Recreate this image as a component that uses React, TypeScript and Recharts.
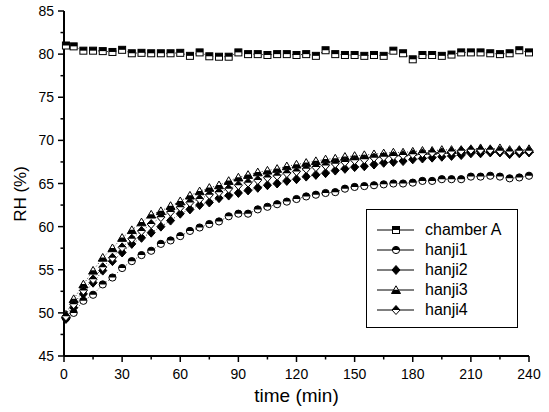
import React from "react";
import { LineChart, Line, XAxis, YAxis, Legend } from "recharts";

// tiempos de muestreo (min)
const times = [
  1, 5, 10, 15, 20, 25, 30, 35, 40, 45, 50, 55, 60, 65, 70, 75, 80, 85, 90, 95,
  100, 105, 110, 115, 120, 125, 130, 135, 140, 145, 150, 155, 160, 165, 170,
  175, 180, 185, 190, 195, 200, 205, 210, 215, 220, 225, 230, 235, 240,
];

const chamberA = [
  81.0, 80.9, 80.4, 80.4, 80.35, 80.25, 80.5, 80.1, 80.15, 80.1, 80.1, 80.1,
  80.15, 79.8, 80.2, 79.75, 79.7, 79.7, 80.2, 80.0, 80.0, 79.9, 80.0, 80.0,
  79.9, 80.0, 79.8, 80.45, 80.0, 79.9, 79.9, 79.8, 79.9, 79.8, 80.4, 80.1,
  79.4, 79.9, 79.9, 79.8, 79.95, 80.2, 80.2, 80.2, 80.1, 80.0, 80.1, 80.45,
  80.2,
];

const hanji1 = [
  49.4, 50.0, 51.4, 52.1, 53.3, 54.1, 55.2, 56.0, 56.7, 57.2, 58.0, 58.4, 58.9,
  59.5, 59.9, 60.3, 60.6, 61.2, 61.5, 61.5, 62.0, 62.3, 62.6, 62.9, 63.2, 63.5,
  63.7, 63.9, 64.0, 64.4, 64.6, 64.7, 64.8, 64.9, 65.0, 65.0, 65.1, 65.3, 65.3,
  65.5, 65.5, 65.5, 65.8, 65.8, 65.9, 65.8, 65.6, 65.7, 65.9,
];

const hanji2 = [
  49.3, 50.6, 52.2, 53.5, 54.9, 56.0, 57.0, 58.0, 58.7, 59.3, 60.0, 60.7, 61.5,
  62.0, 62.5, 62.8, 63.3, 63.6, 63.9, 64.2, 64.5, 64.8, 65.0, 65.3, 65.5, 65.8,
  66.0, 66.2, 66.5, 66.7, 66.9, 67.0, 67.2, 67.4, 67.5, 67.6, 67.8, 67.9, 68.0,
  68.1, 68.2, 68.3, 68.5, 68.5, 68.6, 68.6, 68.4, 68.5, 68.6,
];

const hanji3 = [
  49.8, 51.6, 53.3, 54.9, 56.4, 57.5, 58.7, 59.6, 60.5, 61.4, 61.8, 62.4, 62.95,
  63.6, 64.1, 64.5, 64.8, 65.3, 65.7, 66.0, 66.3, 66.5, 66.7, 67.0, 67.2, 67.4,
  67.6, 67.8, 67.9, 68.1, 68.2, 68.3, 68.4, 68.5, 68.6, 68.6, 68.7, 68.8, 68.8,
  68.9, 68.9, 68.9, 69.0, 69.1, 69.0, 69.1, 68.9, 68.9, 69.0,
];

const hanji4 = [
  49.6, 51.0, 52.6, 53.9, 55.3, 56.4, 57.6, 58.6, 59.5, 60.3, 61.1, 61.7, 62.25,
  62.8, 63.2, 63.7, 64.0, 64.4, 64.8, 65.1, 65.4, 65.7, 65.9, 66.2, 66.4, 66.7,
  66.9, 67.1, 67.3, 67.5, 67.7, 67.8, 68.0, 68.1, 68.2, 68.3, 68.4, 68.5, 68.6,
  68.6, 68.7, 68.8, 68.9, 68.9, 68.9, 68.8, 68.7, 68.8, 68.8,
];

const xTicks = [0, 15, 30, 45, 60, 75, 90, 105, 120, 135, 150, 165, 180, 195, 210, 225, 240];
const yTicks = [45, 47.5, 50, 52.5, 55, 57.5, 60, 62.5, 65, 67.5, 70, 72.5, 75, 77.5, 80, 82.5, 85];

const data = times.map((t, i) => ({
  time: t,
  chamberA: chamberA[i],
  hanji1: hanji1[i],
  hanji2: hanji2[i],
  hanji3: hanji3[i],
  hanji4: hanji4[i],
}));

const FONT = "'Liberation Sans', Arial, sans-serif";

// marcadores semi-rellenos estilo Origin
const Marker = ({ kind, cx, cy }: { kind: string; cx: number; cy: number }) => {
  if (kind === "square") {
    return (
      <g>
        <rect x={cx - 3.5} y={cy - 3.5} width={7} height={7} fill="#fff" stroke="#000" strokeWidth={1} />
        <rect x={cx - 3.5} y={cy - 3.5} width={7} height={3.5} fill="#000" />
      </g>
    );
  }
  if (kind === "circle") {
    const r = 3.6;
    return (
      <g>
        <circle cx={cx} cy={cy} r={r} fill="#fff" stroke="#000" strokeWidth={1} />
        <path d={`M${cx - r},${cy} A${r},${r} 0 0 1 ${cx + r},${cy} Z`} fill="#000" />
      </g>
    );
  }
  if (kind === "diamondFull") {
    return (
      <polygon
        points={`${cx},${cy - 4.5} ${cx + 4},${cy} ${cx},${cy + 4.5} ${cx - 4},${cy}`}
        fill="#000"
        stroke="#000"
        strokeWidth={1}
      />
    );
  }
  if (kind === "triangle") {
    return (
      <g>
        <polygon
          points={`${cx},${cy - 4.2} ${cx + 4.5},${cy + 3.5} ${cx - 4.5},${cy + 3.5}`}
          fill="#fff"
          stroke="#000"
          strokeWidth={1}
        />
        <polygon
          points={`${cx - 2.3},${cy - 0.3} ${cx + 2.3},${cy - 0.3} ${cx + 4.5},${cy + 3.5} ${cx - 4.5},${cy + 3.5}`}
          fill="#000"
        />
      </g>
    );
  }
  // diamante con mitad superior negra
  return (
    <g>
      <polygon
        points={`${cx},${cy - 4.5} ${cx + 4},${cy} ${cx},${cy + 4.5} ${cx - 4},${cy}`}
        fill="#fff"
        stroke="#000"
        strokeWidth={1}
      />
      <polygon points={`${cx},${cy - 4.5} ${cx + 4},${cy} ${cx - 4},${cy}`} fill="#000" />
    </g>
  );
};

const series = [
  { key: "chamberA", name: "chamber A", kind: "square" },
  { key: "hanji1", name: "hanji1", kind: "circle" },
  { key: "hanji2", name: "hanji2", kind: "diamondFull" },
  { key: "hanji3", name: "hanji3", kind: "triangle" },
  { key: "hanji4", name: "hanji4", kind: "diamondHalf" },
];

const XTick = ({ x, y, payload }: any) => {
  const major = payload.value % 30 === 0;
  return (
    <g>
      <line x1={x} x2={x} y1={y} y2={y + (major ? 6 : 3.5)} stroke="#000" strokeWidth={1.5} />
      {major && (
        <text x={x} y={y + 23} textAnchor="middle" fontSize={14} fontFamily={FONT} fill="#000">
          {payload.value}
        </text>
      )}
    </g>
  );
};

const YTick = ({ x, y, payload }: any) => {
  const major = payload.value % 5 === 0;
  return (
    <g>
      <line x1={x - (major ? 6 : 3.5)} x2={x} y1={y} y2={y} stroke="#000" strokeWidth={1.5} />
      {major && (
        <text x={x - 10} y={y} dy="0.36em" textAnchor="end" fontSize={14} fontFamily={FONT} fill="#000">
          {payload.value}
        </text>
      )}
    </g>
  );
};

const renderLegend = () => (
  <div
    style={{
      boxSizing: "border-box",
      width: 152,
      height: 119,
      border: "1px solid #000",
      background: "#fff",
      padding: "10px 0 0 0",
      fontFamily: FONT,
    }}
  >
    {series.map((s) => (
      <div key={s.key} style={{ display: "flex", alignItems: "center", height: 20 }}>
        <svg width={58} height={20} style={{ display: "block" }}>
          <line x1={10} x2={47} y1={10} y2={10} stroke="#000" strokeWidth={1} />
          <Marker kind={s.kind} cx={29} cy={10} />
        </svg>
        <span style={{ fontSize: 16, color: "#000", lineHeight: "20px", whiteSpace: "nowrap" }}>{s.name}</span>
      </div>
    ))}
  </div>
);

export default function App() {
  return (
    <div style={{ position: "absolute", left: 0, top: 0, width: 549, height: 412, background: "#fff" }}>
      <LineChart width={549} height={412} data={data} margin={{ top: 11, right: 20, left: 0, bottom: 0 }}>
        <XAxis
          dataKey="time"
          type="number"
          domain={[0, 240]}
          ticks={xTicks}
          interval={0}
          height={56}
          tickSize={0}
          tickMargin={0}
          tickLine={false}
          tick={<XTick />}
          axisLine={{ stroke: "#000", strokeWidth: 2 }}
          label={{ value: "time (min)", position: "insideBottom", offset: 10, fontSize: 19, fill: "#000", fontFamily: FONT }}
        />
        <YAxis
          type="number"
          domain={[45, 85]}
          ticks={yTicks}
          interval={0}
          width={64}
          tickSize={0}
          tickMargin={0}
          tickLine={false}
          tick={<YTick />}
          axisLine={{ stroke: "#000", strokeWidth: 2 }}
          label={{
            content: () => (
              <text
                x={20}
                y={194}
                transform="rotate(-90 20 194)"
                textAnchor="middle"
                dominantBaseline="central"
                fontSize={17}
                fontFamily={FONT}
                fill="#000"
              >
                RH (%)
              </text>
            ),
          }}
        />
        <Legend
          layout="vertical"
          align="center"
          verticalAlign="middle"
          content={renderLegend}
          wrapperStyle={{ left: 366, top: 209, width: 152, height: 119 }}
        />
        {series.map((s) => (
          <Line
            key={s.key}
            dataKey={s.key}
            name={s.name}
            type="linear"
            stroke="#000"
            strokeWidth={0.8}
            strokeDasharray="1 2"
            isAnimationActive={false}
            dot={(p: any) => <Marker key={`${s.key}-${p.index}`} kind={s.kind} cx={p.cx} cy={p.cy} />}
            activeDot={false}
          />
        ))}
      </LineChart>
    </div>
  );
}
